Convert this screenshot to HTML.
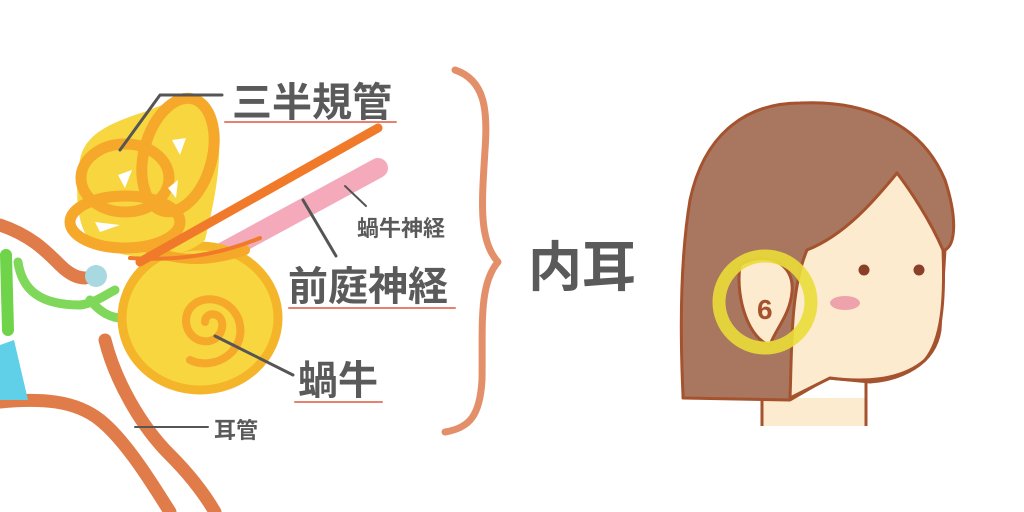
<!DOCTYPE html>
<html><head><meta charset="utf-8"><style>
html,body{margin:0;padding:0;background:#fff;width:1024px;height:512px;overflow:hidden}
svg{display:block}
text{font-family:"Liberation Sans","Noto Sans CJK JP",sans-serif;font-weight:bold;fill:#5a5a5a}
</style></head><body>
<svg width="1024" height="512" viewBox="0 0 1024 512">
<g fill="none" stroke-linecap="round" stroke-linejoin="round">
<path d="M0,225 C30,235 45,250 60,265 C70,275 78,278 85,278" stroke="#e07c4a" stroke-width="13"/>
<path d="M0,402 C40,398 75,400 100,420 C125,440 150,480 170,512" stroke="#e07c4a" stroke-width="13"/>
<path d="M105,340 C115,380 140,425 170,455 C190,475 205,495 215,512" stroke="#e07c4a" stroke-width="13"/>
<path d="M6,255 L8,330" stroke="#6fd44a" stroke-width="12"/>
<path d="M18,262 C22,290 40,305 80,305 C95,303 105,295 115,290" stroke="#7fd85a" stroke-width="9"/>
<path d="M90,300 C100,312 110,318 122,318" stroke="#7fd85a" stroke-width="9"/>
<path d="M0,345 L14,340 L28,400 L0,400 Z" fill="#5fd0e8" stroke="none"/>
<circle cx="96" cy="276" r="11" fill="#a8d8e0" stroke="none"/>
<path d="M205,262 L378,168" stroke="#f4aabb" stroke-width="20"/>
<!-- cochlea -->
<ellipse cx="200" cy="318" rx="78" ry="72" fill="#f7d640" stroke="#f5b52a" stroke-width="9"/>
<path d="M205,322 C205,310 225,312 222,328 C218,348 188,345 186,322 C185,295 225,290 238,318 C250,350 215,372 190,360" stroke="#f5a82a" stroke-width="8"/>
<!-- semicircular canals -->
<path d="M80,160 C85,130 120,120 150,110 C170,100 200,95 215,120 C225,150 215,200 205,240 C180,262 130,262 95,245 C75,230 75,190 80,160 Z" fill="#f7d640" stroke="none"/>
<ellipse cx="178" cy="155" rx="34" ry="58" transform="rotate(15 178 155)" fill="none" stroke="#f5a82a" stroke-width="11"/>
<ellipse cx="125" cy="178" rx="44" ry="34" fill="none" stroke="#f5a82a" stroke-width="11"/>
<ellipse cx="125" cy="222" rx="55" ry="26" fill="none" stroke="#f5a82a" stroke-width="11"/>
<path d="M150,250 C180,262 210,262 245,250" stroke="#f5a82a" stroke-width="10"/>
<path d="M118,175 L132,170 L125,188 Z" fill="#fff" stroke="none"/>
<path d="M172,140 L186,138 L180,155 Z" fill="#fff" stroke="none"/>
<path d="M168,188 L178,180 L176,198 Z" fill="#fff" stroke="none"/>
<path d="M95,222 L120,225 L100,232 Z" fill="#fff" stroke="none"/>
<path d="M140,262 L378,128" stroke="#f07a2a" stroke-width="9"/>
<path d="M130,258 C190,262 230,250 260,238" stroke="#f07a2a" stroke-width="4"/>
<path d="M222,95 L160,95 L120,150" stroke="#555" stroke-width="3"/>
<path d="M303,200 L336,256" stroke="#555" stroke-width="3"/>
<path d="M215,336 L293,375" stroke="#555" stroke-width="3"/>
<path d="M345,186 L366,206" stroke="#555" stroke-width="2"/>
<path d="M135,427 L208,427" stroke="#555" stroke-width="2"/>
<path d="M225,122 L397,122" stroke="#e8806e" stroke-width="2" stroke-dasharray="3 1"/>
<path d="M289,308 L455,308" stroke="#e8806e" stroke-width="2" stroke-dasharray="3 1"/>
<path d="M295,402 L383,402" stroke="#e8806e" stroke-width="2" stroke-dasharray="3 1"/>
<path d="M455,70 C485,80 488,110 485,150 C482,200 478,240 498,262 C478,285 483,330 482,380 C480,415 470,428 445,432" stroke="#e3906a" stroke-width="7"/>
</g>
<text x="232" y="116" font-size="40">三半規管</text>
<text x="288" y="300" font-size="40">前庭神経</text>
<text x="298" y="394" font-size="40">蝸牛</text>
<text x="357" y="236" font-size="22">蝸牛神経</text>
<text x="214" y="438" font-size="22">耳管</text>
<text x="528" y="286" font-size="54">内耳</text>
<g stroke="#a5522e" stroke-width="3" stroke-linejoin="round">
<path d="M762,398 L762,426 L866,426 L866,398 Z" fill="#fdebd0" stroke="none"/>
<path d="M762,395 L762,426 M866,380 L866,426" fill="none"/>
<path d="M683,395 C680,330 680,260 690,200 C705,130 750,103 800,103 C860,100 920,120 945,180 C958,220 955,245 945,250 L940,330 C935,365 900,380 870,382 L828,378 L790,400 L683,398 Z" fill="#a9765f"/>
<path d="M897,173 C875,200 845,235 807,250 C790,290 792,350 790,398 L830,378 C860,382 900,382 925,360 C942,340 945,300 943,250 C930,220 910,190 897,173 Z" fill="#fdebd0"/>
</g>
<path d="M740,265 C765,250 795,262 792,292 C790,315 775,330 770,345 C750,340 735,300 740,265 Z" fill="#fdebd0" stroke="#a5522e" stroke-width="3"/>
<circle cx="765" cy="302" r="46" fill="none" stroke="#eadd3a" stroke-width="13" opacity="0.9"/>
<text x="757" y="319" font-size="28" style="fill:#a5522e">6</text>
<circle cx="864" cy="270" r="5.5" fill="#8a4028"/>
<circle cx="919" cy="270" r="5.5" fill="#8a4028"/>
<ellipse cx="845" cy="303" rx="15" ry="7" fill="#eea3ac"/>
</svg>
</body></html>
